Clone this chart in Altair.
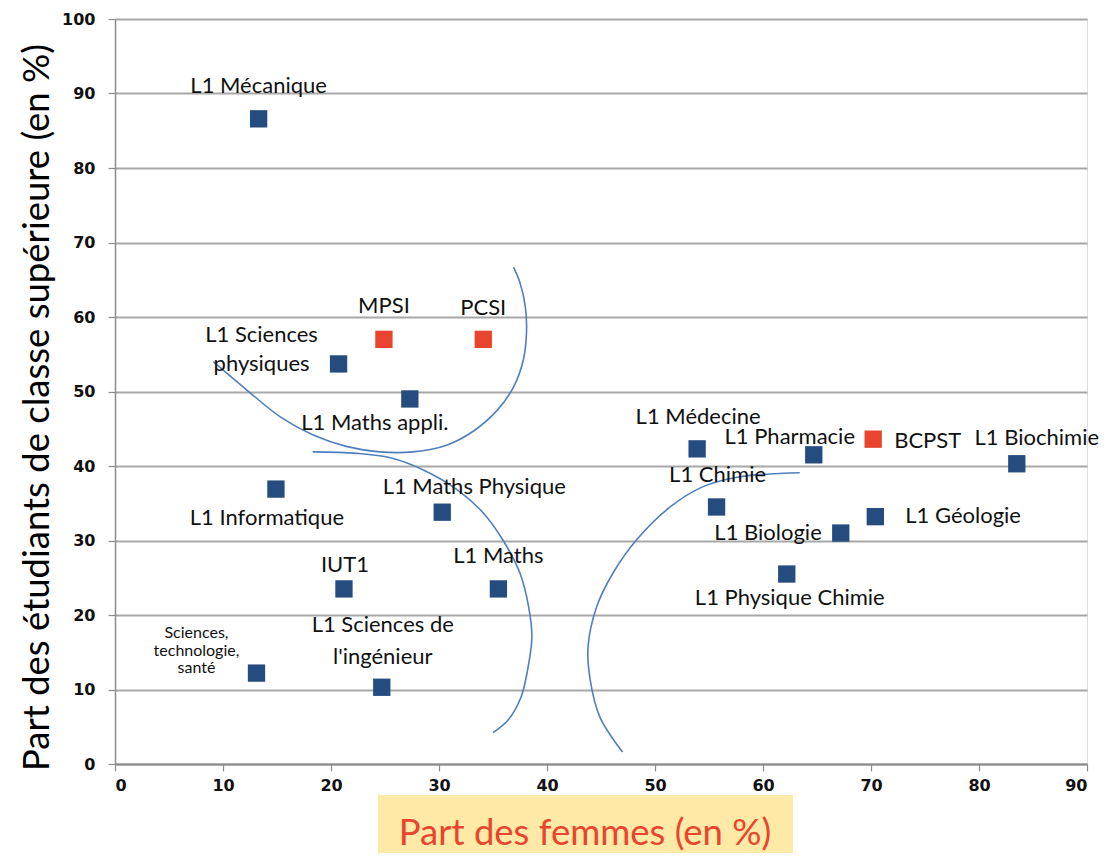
import altair as alt
import pandas as pd

# ---- data ----
names = ["L1 Mécanique", "MPSI", "PCSI", "L1 Sciences\nphysiques", "L1 Maths appli.",
         "L1 Informatique", "L1 Maths Physique", "IUT1", "L1 Maths",
         "Sciences,\ntechnologie,\nsanté", "L1 Sciences de\nl'ingénieur",
         "L1 Médecine", "L1 Pharmacie", "BCPST", "L1 Biochimie", "L1 Chimie",
         "L1 Géologie", "L1 Biologie", "L1 Physique Chimie"]
part_femmes = [13.3, 24.9, 34.1, 20.7, 27.3, 14.9, 30.3, 21.2, 35.5, 13.1, 24.7,
               53.9, 64.7, 70.2, 83.5, 55.7, 70.4, 67.2, 62.2]
part_sup = [86.6, 57.0, 57.0, 53.7, 49.0, 36.9, 33.8, 23.5, 23.5, 12.2, 10.3,
            42.3, 41.5, 43.6, 40.3, 34.5, 33.2, 31.0, 25.5]
filiere = ["Université", "CPGE", "CPGE", "Université", "Université", "Université",
           "Université", "Université", "Université", "Université", "Université",
           "Université", "Université", "CPGE", "Université", "Université",
           "Université", "Université", "Université"]

# hand-drawn curves (data units)
curve1_x = [9.1, 12.2, 15.3, 18.3, 21.5, 24.5, 27.6, 30.7, 33.1, 35.4, 36.9, 37.8, 38.1, 38.0, 37.5, 36.9]
curve1_y = [54.0, 50.2, 46.6, 44.2, 42.6, 41.9, 41.9, 42.8, 44.6, 47.5, 50.6, 54.2, 57.9, 61.3, 64.6, 66.7]
curve2_x = [18.3, 22.4, 25.5, 28.5, 31.7, 34.1, 35.9, 37.5, 38.3, 38.6, 38.2, 37.6, 36.4, 35.0]
curve2_y = [41.9, 41.7, 41.1, 39.5, 36.8, 33.7, 30.1, 25.6, 21.1, 17.0, 12.6, 9.0, 5.9, 4.2]
curve3_x = [63.4, 57.6, 54.4, 51.4, 48.3, 46.1, 44.6, 43.8, 44.0, 44.9, 47.0]
curve3_y = [39.1, 38.5, 37.2, 34.5, 30.1, 25.6, 21.1, 15.7, 11.3, 6.3, 1.6]

x_ticks = list(range(0, 91, 10))
y_ticks = list(range(0, 101, 10))

# ---- tables ----
pts = pd.DataFrame({"nom": names, "x": part_femmes, "y": part_sup, "type": filiere})
rows = []
for cid, (cx, cy) in enumerate([(curve1_x, curve1_y), (curve2_x, curve2_y), (curve3_x, curve3_y)]):
    for i, (a, b) in enumerate(zip(cx, cy)):
        rows.append({"curve": cid, "ord": i, "x": a, "y": b})
curves = pd.DataFrame(rows)

# ---- style ----
BLUE = "#254C7F"
RED = "#E8442E"
LABEL_FONT = "Lato"
TICK_FONT = "DejaVu Sans"

x_enc = alt.X("x:Q", scale=alt.Scale(domain=[0, 90], nice=False, zero=True),
              axis=alt.Axis(values=x_ticks, grid=False, title="",
                            labelFont=TICK_FONT, labelFontSize=16, labelFontWeight="bold",
                            labelColor="#111111", labelPadding=6,
                            domainColor="#8C8C8C", domainWidth=2,
                            tickColor="#8C8C8C", tickSize=7, tickWidth=1.2))
y_enc = alt.Y("y:Q", scale=alt.Scale(domain=[0, 100], nice=False, zero=True),
              axis=alt.Axis(values=y_ticks, grid=True, gridColor="#A8A8A8", gridWidth=2,
                            title="Part des étudiants de classe supérieure (en %)",
                            titleFont=LABEL_FONT, titleFontSize=36.5, titleFontWeight="normal",
                            titleColor="#000000", titleX=-67, titleY=388, titleAngle=270,
                            titleBaseline="alphabetic", titleAlign="center",
                            labelFont=TICK_FONT, labelFontSize=16, labelFontWeight="bold",
                            labelColor="#111111", labelPadding=13,
                            domainColor="#8C8C8C", domainWidth=1.5,
                            tickColor="#8C8C8C", tickSize=7, tickWidth=1.2))

box = alt.Chart(pd.DataFrame({"k": [0]})).mark_rect(color="#FFE9A6").encode(
    x=alt.value(263), x2=alt.value(678), y=alt.value(776), y2=alt.value(842))

xtitle = alt.Chart(pd.DataFrame({"t": ["Part des femmes (en %)"]})).mark_text(
    font=LABEL_FONT, fontSize=36.5, color=RED, align="center", baseline="alphabetic").encode(
    text="t:N", x=alt.value(470), y=alt.value(826))

lines = alt.Chart(curves).mark_line(color="#4F7FBF", strokeWidth=1.6,
                                    interpolate="catmull-rom").encode(
    x=x_enc, y=y_enc, detail="curve:N", order="ord:Q")

squares = alt.Chart(pts).mark_square(size=300, opacity=1, filled=True).encode(
    x=x_enc, y=y_enc,
    color=alt.Color("type:N", scale=alt.Scale(domain=["Université", "CPGE"], range=[BLUE, RED]),
                    legend=None))

# label placement (pixel offsets from each marker) -- style only
placement = {
    "L1 Mécanique": (0, -33, "center", 22, 20),
    "MPSI": (0, -33, "center", 22, 20),
    "PCSI": (0, -31, "center", 22, 20),
    "L1 Sciences\nphysiques": (-77, -29, "center", 22, 29),
    "L1 Maths appli.": (-35, 24, "center", 22, 20),
    "L1 Informatique": (-9, 29, "center", 22, 20),
    "L1 Maths Physique": (32, -25, "center", 22, 20),
    "IUT1": (1, -24, "center", 22, 20),
    "L1 Maths": (0, -33, "center", 22, 20),
    "Sciences,\ntechnologie,\nsanté": (-60, -40, "center", 16, 17.5),
    "L1 Sciences de\nl'ingénieur": (1, -62, "center", 22, 32),
    "L1 Médecine": (1, -32, "center", 22, 20),
    "L1 Pharmacie": (-24, -18, "center", 22, 20),
    "BCPST": (21, 2, "left", 22, 20),
    "L1 Biochimie": (20, -26, "center", 22, 20),
    "L1 Chimie": (1, -32, "center", 22, 20),
    "L1 Géologie": (30, -1, "left", 22, 20),
    "L1 Biologie": (-19, 0, "right", 22, 20),
    "L1 Physique Chimie": (3, 24, "center", 22, 20),
}

label_layers = []
for n in names:
    dx, dy, al, fs, lh = placement[n]
    label_layers.append(
        alt.Chart(pts[pts["nom"] == n]).mark_text(
            dx=dx, dy=dy, align=al, baseline="middle", font=LABEL_FONT, fontSize=fs,
            lineHeight=lh, lineBreak="\n", color="#111111").encode(
            x=x_enc, y=y_enc, text="nom:N"))

chart = alt.layer(box, lines, squares, *label_layers, xtitle).properties(
    width=972, height=745,
    autosize=alt.AutoSizeParams(type="none"),
    padding={"left": 107, "top": 11, "right": 20, "bottom": 89},
).configure_view(stroke=None).configure(background="white")

chart.save("out.html", embed_options={"renderer": "svg", "actions": False})
